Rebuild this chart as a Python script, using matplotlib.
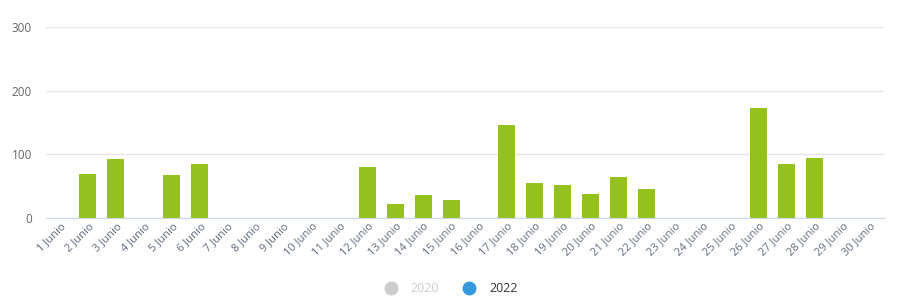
import matplotlib.pyplot as plt
from matplotlib.lines import Line2D

plt.rcParams['font.family'] = ['Open Sans', 'DejaVu Sans']

days = [f"{d} Junio" for d in range(1, 31)]
values_2022 = [0, 69, 93, 0, 68, 85, 0, 0, 0, 0,
               0, 80, 22, 36, 28, 0, 146, 55, 52, 38,
               64, 45, 0, 0, 0, 173, 85, 94, 0, 0]
series_names = ['2020', '2022']
yticks = [0, 100, 200, 300]


def main():
    fig = plt.figure(figsize=(9.08, 3.04), dpi=100)
    ax = fig.add_axes([46 / 908, 86 / 304, 838 / 908, 191 / 304])

    x = list(range(len(days)))
    ax.bar(x, values_2022, width=0.61, color='#95c11f', zorder=3)

    ax.set_xlim(-0.5, len(days) - 0.5)
    ax.set_ylim(0, 300)
    ax.set_yticks(yticks)
    ax.set_xticks(x)
    ax.set_xticklabels(days, rotation=45, ha='right', rotation_mode='anchor',
                       fontsize=8, color='#606b7b')
    ax.tick_params(axis='x', length=0, pad=2)
    ax.tick_params(axis='y', length=0, pad=10, labelsize=8.5, labelcolor='#666666')

    ax.grid(axis='y', color='#e6e6e6', linewidth=1, zorder=0)
    for s in ['top', 'right', 'left']:
        ax.spines[s].set_visible(False)
    ax.spines['bottom'].set_color('#ccd6eb')
    ax.spines['bottom'].set_zorder(4)

    handles = [
        Line2D([], [], marker='o', linestyle='', markersize=9, color='#cccccc'),
        Line2D([], [], marker='o', linestyle='', markersize=9, color='#3498db'),
    ]
    leg = fig.legend(handles, series_names, loc='center', bbox_to_anchor=(448 / 908, 1 - 289 / 304),
                     ncol=2, frameon=False, fontsize=9, handletextpad=0.6, columnspacing=1.4)
    leg.get_texts()[0].set_color('#cccccc')
    leg.get_texts()[1].set_color('#333333')

    fig.savefig('out.png', dpi=100)


if __name__ == "__main__":
    main()
